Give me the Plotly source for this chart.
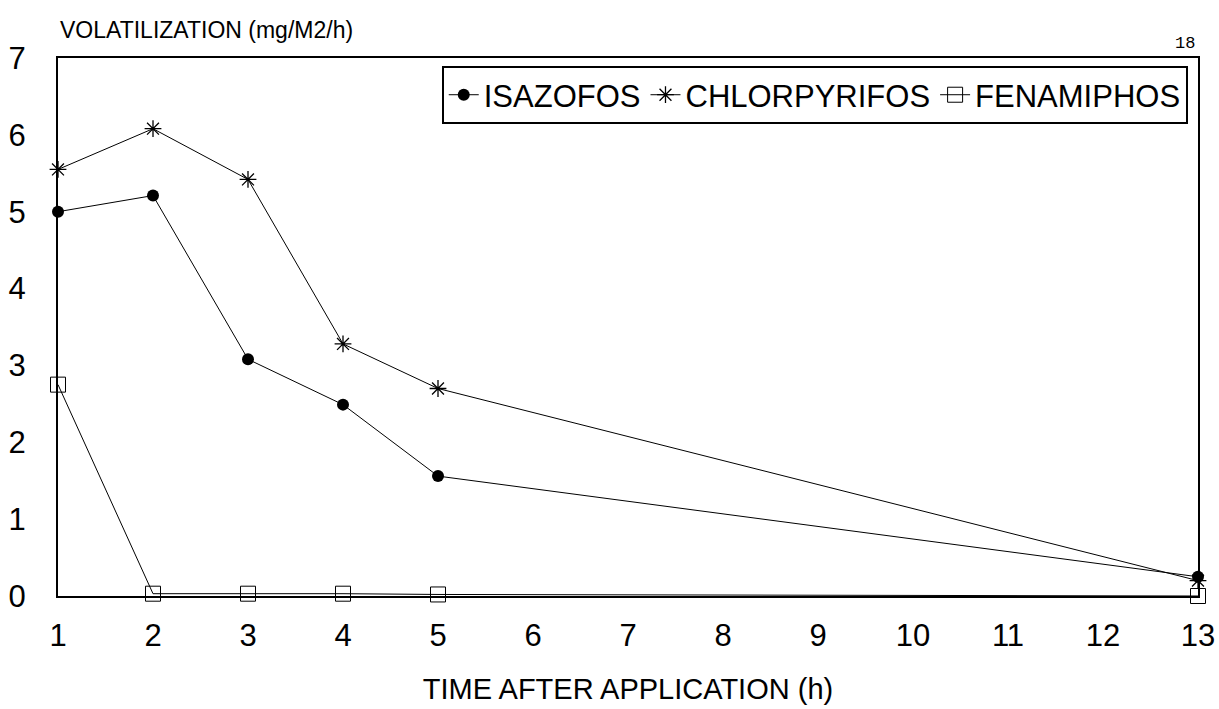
import plotly.graph_objects as go

hours = [1, 2, 3, 4, 5, 13]
isazofos = [5.0, 5.21, 3.08, 2.49, 1.56, 0.25]
chlorpyrifos = [5.55, 6.08, 5.42, 3.28, 2.70, 0.20]
fenamiphos = [2.75, 0.03, 0.03, 0.03, 0.02, 0.0]
x_ticks = list(range(1, 14))
y_ticks = list(range(0, 8))

FONT = "Liberation Sans, Arial, sans-serif"

fig = go.Figure()
fig.add_trace(go.Scatter(
    x=hours, y=isazofos, name="ISAZOFOS", mode="lines+markers",
    line=dict(color="black", width=1),
    marker=dict(symbol="circle", size=12, color="black"),
    cliponaxis=False,
))
fig.add_trace(go.Scatter(
    x=hours, y=chlorpyrifos, name="CHLORPYRIFOS", mode="lines+markers",
    line=dict(color="black", width=1),
    marker=dict(symbol="asterisk-open", size=14, color="black",
                line=dict(color="black", width=1.3)),
    cliponaxis=False,
))
fig.add_trace(go.Scatter(
    x=hours, y=fenamiphos, name="FENAMIPHOS", mode="lines+markers",
    line=dict(color="black", width=1),
    marker=dict(symbol="square-open", size=15, color="black",
                line=dict(color="black", width=1)),
    cliponaxis=False,
))

fig.update_layout(
    width=1219, height=709,
    margin=dict(l=58, r=21, t=58, b=113),
    paper_bgcolor="white", plot_bgcolor="white",
    font=dict(family=FONT, color="black", size=28),
    showlegend=True,
    legend=dict(
        orientation="h", x=0.991, y=0.985, xanchor="right", yanchor="top",
        bordercolor="black", borderwidth=2, bgcolor="white",
        font=dict(size=31, family=FONT), itemwidth=30,
        tracegroupgap=0,
    ),
    xaxis=dict(
        range=[1, 13], tickvals=x_ticks, ticktext=[str(v) for v in x_ticks],
        showgrid=False, zeroline=False, showline=True, linecolor="black",
        linewidth=2, mirror=True, ticks="", ticklabelstandoff=11,
        tickfont=dict(size=31), automargin=False,
        title=dict(text="TIME AFTER APPLICATION (h)", font=dict(size=29), standoff=26),
    ),
    yaxis=dict(
        range=[0, 7], tickvals=y_ticks, showgrid=False, zeroline=False,
        showline=True, linecolor="black", linewidth=2, mirror=True,
        ticks="", ticklabelstandoff=24, tickfont=dict(size=31),
        automargin=False,
    ),
    annotations=[
        dict(text="VOLATILIZATION (mg/M2/h)", xref="paper", yref="paper",
             x=0, y=1, xanchor="left", yanchor="bottom", yshift=13,
             showarrow=False, font=dict(size=23, family=FONT)),
        dict(text="18", xref="paper", yref="paper", x=1, y=1,
             xanchor="right", yanchor="bottom", yshift=3, xshift=-1,
             showarrow=False, font=dict(size=17, family="Liberation Mono, Courier New, monospace")),
    ],
)

fig.write_html("out.html")
